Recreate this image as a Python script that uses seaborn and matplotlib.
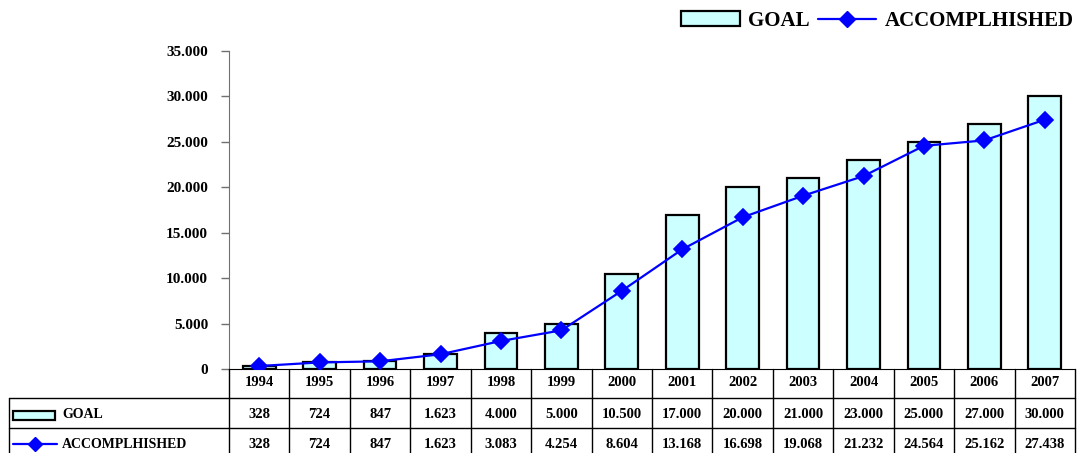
import numpy as np
import pandas as pd
import seaborn as sns
import matplotlib.pyplot as plt
from matplotlib.patches import Rectangle
from matplotlib.lines import Line2D

years = ["1994", "1995", "1996", "1997", "1998", "1999", "2000",
         "2001", "2002", "2003", "2004", "2005", "2006", "2007"]
goal = [328, 724, 847, 1623, 4000, 5000, 10500,
        17000, 20000, 21000, 23000, 25000, 27000, 30000]
accomplished = [328, 724, 847, 1623, 3083, 4254, 8604,
                13168, 16698, 19068, 21232, 24564, 25162, 27438]
y_ticks = [0, 5000, 10000, 15000, 20000, 25000, 30000, 35000]

BAR_COLOR = "#CCFFFF"
LINE_COLOR = "#0000FF"

sns.set_style("white")
plt.rcParams["font.family"] = ["Liberation Serif", "DejaVu Serif"]
plt.rcParams["font.weight"] = "bold"
plt.rcParams["text.color"] = "black"
plt.rcParams["ytick.labelcolor"] = "black"


def fmt(v):
    return f"{v:,.0f}".replace(",", ".")


df = pd.DataFrame({"year": years, "goal": goal, "accomplished": accomplished})

W, H = 1086, 453
fig = plt.figure(figsize=(W / 100, H / 100), dpi=100)

ax_left, ax_right = 229 / W, 1075 / W
ax_bottom, ax_top = 1 - 369 / H, 1 - 51 / H
ax = fig.add_axes([ax_left, ax_bottom, ax_right - ax_left, ax_top - ax_bottom])

sns.barplot(data=df, x="year", y="goal", color=BAR_COLOR, edgecolor="black",
            linewidth=1.6, width=0.54, saturation=1, ax=ax, zorder=2)
sns.pointplot(data=df, x="year", y="accomplished", color=LINE_COLOR, markers="D",
              linestyles="-", markersize=8, linewidth=1.6, ax=ax, zorder=3)

ax.set_xlim(-0.5, len(years) - 0.5)
ax.set_ylim(0, 35000)
ax.set_yticks(y_ticks)
ax.set_yticklabels([fmt(v) for v in y_ticks], fontsize=11, fontweight="bold", color="black")
ax.set_xticks([])
ax.set_xlabel("")
ax.set_ylabel("")
ax.tick_params(axis="y", direction="out", length=6, width=1, color="#707070", left=True, pad=9)
for s in ["top", "right"]:
    ax.spines[s].set_visible(False)
ax.spines["left"].set_color("#707070")
ax.spines["bottom"].set_color("black")
ax.patch.set_alpha(0)

# data table underneath
tab_h = ax_bottom * H  # table height in pixels
tax = fig.add_axes([ax_left, 0, ax_right - ax_left, ax_bottom])
tax.set_xlim(-0.5, len(years) - 0.5)
tax.set_ylim(0, tab_h)
tax.axis("off")

px_per_unit = (ax_right - ax_left) * W / len(years)


def px2x(px):
    return (px - 229) / px_per_unit - 0.5


x_lab = px2x(9)
x_end = len(years) - 0.5
row_tops = [tab_h, H - 398, H - 428]  # header, goal, accomplished
row_mid = [H - 383, H - 415, H - 444]

kw = dict(color="black", lw=1, clip_on=False)
for i in range(len(years) + 1):
    tax.plot([i - 0.5, i - 0.5], [0, tab_h], **kw)
tax.plot([x_lab, x_end], [row_tops[1], row_tops[1]], **kw)
tax.plot([x_lab, x_end], [row_tops[2], row_tops[2]], **kw)
tax.plot([x_lab, x_lab], [0, row_tops[1]], **kw)

tfont = dict(fontsize=10.5, fontweight="bold", ha="center", va="center", color="black")
for i, y in enumerate(years):
    tax.text(i, row_mid[0], y, **tfont)
    tax.text(i, row_mid[1], fmt(goal[i]), **tfont)
    tax.text(i, row_mid[2], fmt(accomplished[i]), **tfont)

# row labels with legend keys
tax.add_patch(Rectangle((px2x(13), row_mid[1] - 4.5), px2x(55) - px2x(13), 9,
                        facecolor=BAR_COLOR, edgecolor="black", lw=1.6, clip_on=False))
tax.plot([px2x(13), px2x(57)], [row_mid[2], row_mid[2]], color=LINE_COLOR, lw=1.6,
         clip_on=False)
tax.plot([px2x(35)], [row_mid[2]], marker="D", color=LINE_COLOR, ms=7, clip_on=False)
lab = dict(fontsize=10, fontweight="bold", ha="left", va="center", color="black")
tax.text(px2x(62), row_mid[1], "GOAL", **lab)
tax.text(px2x(62), row_mid[2], "ACCOMPLHISHED", **lab)

# legend on top
handles = [Rectangle((0, 0), 1, 1, facecolor=BAR_COLOR, edgecolor="black", lw=1.6),
           Line2D([0], [0], color=LINE_COLOR, lw=1.6, marker="D", ms=8)]
leg = fig.legend(handles, ["GOAL", "ACCOMPLHISHED"], loc="center right",
                 bbox_to_anchor=(1.0, 1 - 21 / H), ncol=2, frameon=False,
                 prop=dict(family="Liberation Serif", weight="bold", size=15),
                 handlelength=2.8, handletextpad=0.4, columnspacing=0.4, borderaxespad=0.2)
for t in leg.get_texts():
    t.set_color("black")

fig.savefig("out.png", dpi=100)
